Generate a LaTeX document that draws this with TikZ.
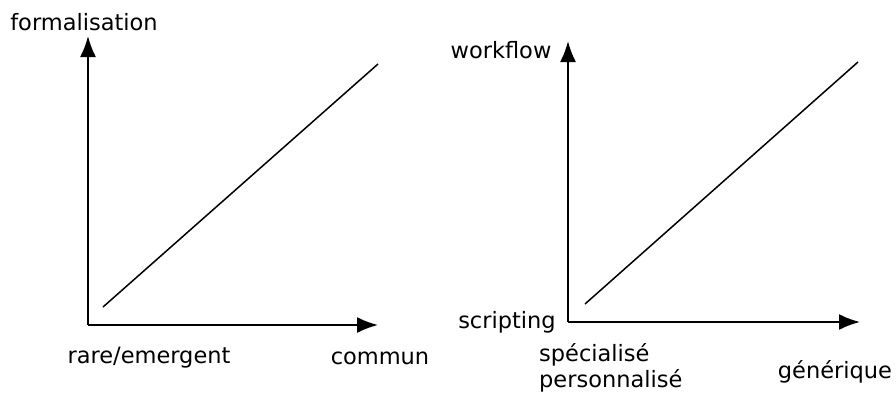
\documentclass[tikz,border=0pt]{standalone}
\usepackage{fontspec}
\setmainfont{DejaVu Sans}
\usetikzlibrary{arrows.meta}
\tikzset{
	axis/.style={line width=2pt, -{Latex[length=21pt,width=16pt]}},
	trend/.style={line width=1.5pt},
	lbl/.style={font=\fontsize{22.5}{26}\selectfont, inner sep=0pt}
}

\begin{document}
\begin{tikzpicture}[x=1pt,y=-1pt]
		%%%%% START %%%%%
		\useasboundingbox (0,0) rectangle (896,394);
		
		% left chart
		\coordinate (lo) at (88,325);
		\coordinate (ly) at (88,36);
		\coordinate (lx) at (378,325);
		\coordinate (la) at (103,307);
		\coordinate (lb) at (378,64);
		\draw[axis] (lo) -- (ly);
		\draw[axis] (lo) -- (lx);
		\draw[trend] (la) -- (lb);
		
		\node[lbl] (lyname) at (84,22) {formalisation};
		\node[lbl] (lxlow) at (149,358) {rare/emergent};
		\node[lbl] (lxhigh) at (380,358) {commun};
		
		% right chart
		\coordinate (ro) at (568,322);
		\coordinate (ry) at (568,41);
		\coordinate (rx) at (860,322);
		\coordinate (ra) at (585,304);
		\coordinate (rb) at (858,62);
		\draw[axis] (ro) -- (ry);
		\draw[axis] (ro) -- (rx);
		\draw[trend] (ra) -- (rb);
		
		\node[lbl] (ryname) at (501,50) {workflow};
		\node[lbl] (rylow) at (507,322) {scripting};
		\node[lbl,align=left,anchor=west] (rxlow) at (539,368) {spécialisé\\personnalisé};
		\node[lbl] (rxhigh) at (835,372) {générique};
		
		%%%%% END %%%%%
	\end{tikzpicture}
\end{document}
